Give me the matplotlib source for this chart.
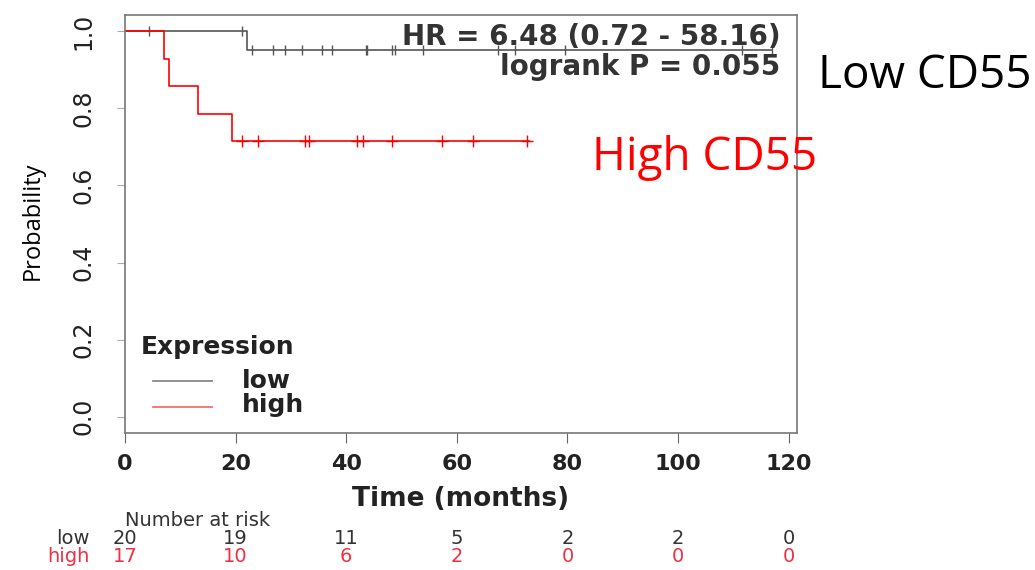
import matplotlib
matplotlib.use("Agg")
import matplotlib.pyplot as plt
from matplotlib.lines import Line2D
from matplotlib.transforms import blended_transform_factory

# Kaplan-Meier steps
low_times = [0, 22, 117]
low_surv = [1.0, 0.95, 0.95]
low_censor_t = [4.4, 21.2, 23, 26.8, 28.9, 32, 35.6, 37.5, 43.5, 43.8,
                48.3, 48.8, 53.9, 67.4, 70.5, 79.6, 111.6, 117]
low_censor_s = [1.0, 1.0] + [0.95] * 16

high_times = [0, 7, 8, 13.2, 19.3, 73]
high_surv = [1.0, 0.929, 0.857, 0.786, 0.714, 0.714]
high_censor_t = [21.1, 24.1, 32.5, 33.3, 41.9, 43, 48.3, 57.3, 63, 72.7]
high_censor_s = [0.714] * 10

risk_ticks = [0, 20, 40, 60, 80, 100, 120]
risk_low = [20, 19, 11, 5, 2, 2, 0]
risk_high = [17, 10, 6, 2, 0, 0, 0]

RED = '#ff0000'
GREY = '#555555'
W, H = 1035, 570

fig = plt.figure(figsize=(10.35, 5.7), dpi=100)
ax = fig.add_axes([125 / W, 1 - 433 / H, 672 / W, 418 / H])

ax.step(low_times, low_surv, where='post', color=GREY, lw=1.2)
ax.plot(low_censor_t, low_censor_s, ls='none', marker='|', ms=7, color=GREY, mew=1)
ax.step(high_times, high_surv, where='post', color=RED, lw=1.2)
ax.plot(high_censor_t, high_censor_s, ls='none', marker='+', ms=8, color=RED, mew=1)

ax.set_xlim(0, 121.5)
ax.set_ylim(-0.042, 1.042)
ax.set_xticks(risk_ticks)
ax.set_yticks([0, 0.2, 0.4, 0.6, 0.8, 1.0])
ax.set_yticklabels(['0.0', '0.2', '0.4', '0.6', '0.8', '1.0'], rotation=90, va='center')
for lab in ax.get_xticklabels():
    lab.set_fontweight('bold')
ax.tick_params(axis='x', labelsize=16, length=7, color='#666666', pad=8, labelcolor='#222222')
ax.tick_params(axis='y', labelsize=17, length=6, color='#aaaaaa', pad=15, labelcolor='#222222')
for sp in ax.spines.values():
    sp.set_color('#777777')
    sp.set_linewidth(1.2)

ax.set_xlabel('Time (months)', fontsize=19, fontweight='bold', labelpad=9, color='#222222')
ax.set_ylabel('Probability', fontsize=17, family='Open Sans')
ax.yaxis.set_label_coords(-(125 - 45) / 672, 0.5 + (225 - 222) / 418)

ax.text(118.5, 0.984, 'HR = 6.48 (0.72 - 58.16)', ha='right', va='center',
        fontsize=20, fontweight='bold', color='#333333')
ax.text(118.5, 0.906, 'logrank P = 0.055', ha='right', va='center',
        fontsize=20, fontweight='bold', color='#333333')

# legend laid out like the R plot
fig.text(141 / W, 1 - 347 / H, 'Expression', fontsize=18, fontweight='bold',
         color='#222222', va='center')
fig.text(242 / W, 1 - 381 / H, 'low', fontsize=18, fontweight='bold',
         color='#222222', va='center')
fig.text(242 / W, 1 - 405 / H, 'high', fontsize=18, fontweight='bold',
         color='#222222', va='center')
fig.add_artist(Line2D([153 / W, 212 / W], [1 - 381 / H, 1 - 381 / H], color='#888888', lw=1.3))
fig.add_artist(Line2D([153 / W, 212 / W], [1 - 407 / H, 1 - 407 / H], color='#f07070', lw=1.3))

fig.text(818 / W, 1 - 76 / H, 'Low CD55', fontsize=33, family='Open Sans', color='black', va='center')
fig.text(592 / W, 1 - 158 / H, 'High CD55', fontsize=33, family='Open Sans', color=RED, va='center')

# number at risk table
fig.text(125 / W, 1 - 521 / H, 'Number at risk', fontsize=14, color='#333333', va='center')
fig.text(90 / W, 1 - 539 / H, 'low', fontsize=14, color='#333333', ha='right', va='center')
fig.text(90 / W, 1 - 557 / H, 'high', fontsize=14, color='#f03040', ha='right', va='center')
tr = blended_transform_factory(ax.transData, fig.transFigure)
for t, nl, nh in zip(risk_ticks, risk_low, risk_high):
    ax.text(t, 1 - 539 / H, str(nl), transform=tr, ha='center', va='center',
            fontsize=14, color='#333333')
    ax.text(t, 1 - 557 / H, str(nh), transform=tr, ha='center', va='center',
            fontsize=14, color='#f03040')

fig.savefig('out.png', dpi=100, facecolor='white')
